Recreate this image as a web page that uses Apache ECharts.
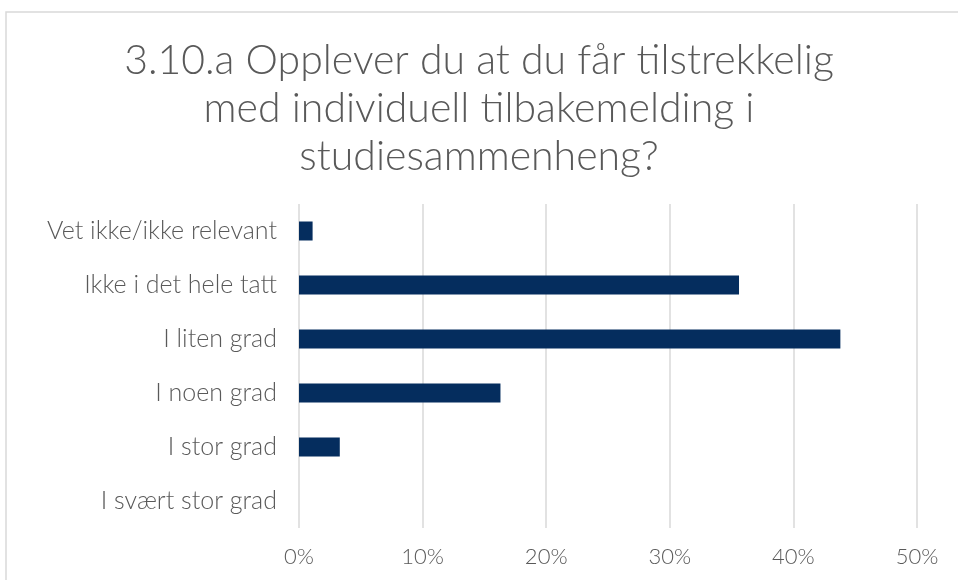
<!DOCTYPE html>
<html>
<head>
<meta charset="utf-8">
<script src="https://cdn.jsdelivr.net/npm/echarts@6/dist/echarts.min.js"></script>
<style>
  html, body { margin: 0; padding: 0; background: #fff; }
  #main { width: 958px; height: 580px; }
</style>
</head>
<body>
<div id="main"></div>
<script>
const categories = [
  'I svært stor grad',
  'I stor grad',
  'I noen grad',
  'I liten grad',
  'Ikke i det hele tatt',
  'Vet ikke/ikke relevant',
];
const shares = [0, 3.3, 16.3, 43.8, 35.6, 1.1];
const titleText = '3.10.a Opplever du at du får tilstrekkelig\nmed individuell tilbakemelding i\nstudiesammenheng?';

const dom = document.getElementById('main');
const myChart = echarts.init(dom);

const font = 'Lato, "DejaVu Sans", sans-serif';

myChart.setOption({
  animation: false,
  textStyle: { fontFamily: font },
  graphic: [
    {
      type: 'rect',
      shape: { x: 6, y: 12, width: 1000, height: 600 },
      style: { fill: 'none', stroke: '#d9d9d9', lineWidth: 1.5 },
    },
  ],
  title: {
    text: titleText,
    left: 'center',
    top: 32,
    textStyle: {
      fontFamily: font,
      fontSize: 41,
      fontWeight: 300,
      color: '#595959',
      lineHeight: 48,
    },
  },
  grid: { left: 299, right: 41, top: 204, bottom: 52, containLabel: false },
  xAxis: {
    type: 'value',
    min: 0,
    max: 50,
    interval: 10,
    axisLabel: {
      formatter: '{value}%',
      fontSize: 22,
      fontWeight: 300,
      color: '#595959',
      margin: 18,
    },
    axisLine: { show: false },
    axisTick: { show: false },
    splitLine: { lineStyle: { color: '#d9d9d9', width: 1.5 } },
  },
  yAxis: {
    type: 'category',
    data: categories,
    axisLabel: { fontSize: 25, fontWeight: 300, color: '#595959', margin: 22 },
    axisLine: { show: false },
    axisTick: { show: false },
  },
  series: [
    {
      type: 'bar',
      data: shares,
      barWidth: 19,
      itemStyle: { color: '#052d5e' },
    },
  ],
});
</script>
</body>
</html>
